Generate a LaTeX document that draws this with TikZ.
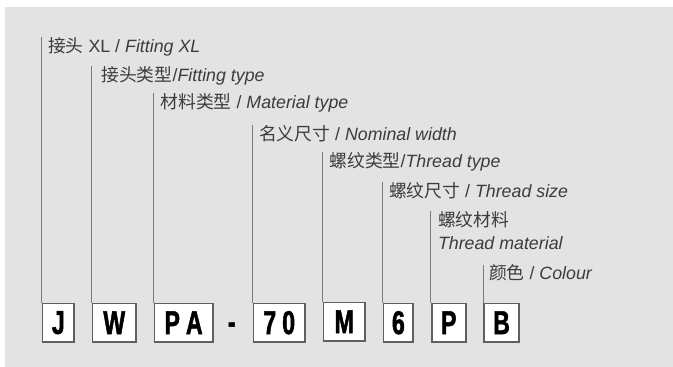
\documentclass[tikz,border=0pt]{standalone}
\usepackage{fontspec}
\setmainfont{Liberation Sans}
\newfontfamily\cjk{Noto Sans CJK SC}
\newfontfamily\codefont[FakeStretch=0.7,FakeBold=1.5]{Liberation Sans Bold}
\usetikzlibrary{positioning, calc}

\definecolor{bggray}{HTML}{E3E3E3}
\definecolor{boxgray}{HTML}{606060}
\definecolor{linegray}{HTML}{7A7A7A}
\definecolor{txtgray}{HTML}{3C3C3C}

\begin{document}
\begin{tikzpicture}[x=1pt, y=-1pt,
    code/.style={rectangle, draw=boxgray, line width=1.8pt, fill=white, anchor=west,
        minimum height=38.5pt, inner sep=0pt, font=\codefont\fontsize{33}{33}\selectfont},
    lbl/.style={anchor=west, inner sep=0pt, align=left, text=txtgray,
        font=\fontsize{17.8}{22.7}\selectfont},
    line/.style={draw=linegray, line width=1pt}]

% Background
\useasboundingbox (0,0) rectangle (673,367);
\fill[bggray] (5,7) rectangle (673,367);

% Code boxes
\node[code, minimum width=31.8pt] (j) at (41.6,322.7) {J};
\node[code, minimum width=43.5pt] (w) at (91.6,322.7) {W};
\node[code, minimum width=58.2pt] (pa) at (153.6,322.7) {P\kern6pt A};
\node[font=\codefont\fontsize{33}{33}\selectfont] (dash) at (231.7,328) {-};
\node[code, minimum width=51.5pt] (seventy) at (252.6,322.7) {7\kern6pt 0};
\node[code, minimum width=41.5pt] (m) at (322.6,321.8) {M};
\node[code, minimum width=29.8pt] (six) at (382.6,322.7) {6};
\node[code, minimum width=33.9pt] (p) at (430.9,322.7) {P};
\node[code, minimum width=34.9pt] (b) at (483.2,322.7) {B};

% Labels
\node[lbl] (jl) at (47.8,47) {{\cjk 接头} XL / \textit{Fitting XL}};
\node[lbl] (wl) at (101.2,75.5) {{\cjk 接头类型}/\textit{Fitting type}};
\node[lbl] (pal) at (160.2,103) {{\cjk 材料类型} / \textit{Material type}};
\node[lbl] (sevenl) at (258.8,133.5) {{\cjk 名义尺寸} / \textit{Nominal width}};
\node[lbl] (ml) at (329.2,162) {{\cjk 螺纹类型}/\textit{Thread type}};
\node[lbl] (sixl) at (388.8,190.5) {{\cjk 螺纹尺寸} / \textit{Thread size}};
\node[lbl] (pl) at (437.8,230.4) {{\cjk 螺纹材料}\\\textit{Thread material}};
\node[lbl] (bl) at (488.8,273) {{\cjk 颜色} / \textit{Colour}};

% Leader lines
\draw [line] (j.north west) -- (j.north west |- jl.north);
\draw [line] (w.north west) -- (w.north west |- wl.north);
\draw [line] (pa.north west) -- (pa.north west |- pal.north);
\draw [line] (seventy.north west) -- (seventy.north west |- sevenl.north);
\draw [line] (m.north west) -- (m.north west |- ml.north);
\draw [line] (six.north west) -- (six.north west |- sixl.north);
\draw [line] (p.north west) -- (p.north west |- pl.north);
\draw [line] (b.north west) -- (b.north west |- bl.north);

\end{tikzpicture}
\end{document}
